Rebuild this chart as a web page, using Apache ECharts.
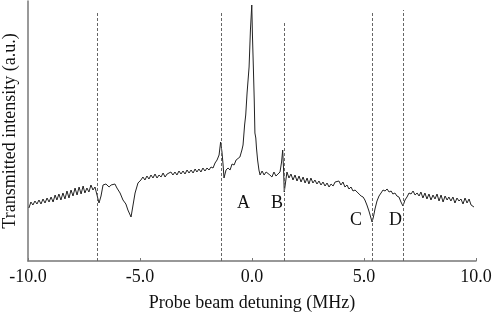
<!DOCTYPE html>
<html>
<head>
    <meta charset="utf-8">
    <title>Transmitted intensity vs probe detuning</title>
    <script src="https://cdn.jsdelivr.net/npm/echarts@6/dist/echarts.min.js"></script>
</head>
<body style="margin:0;background:#fff;">
    <div id="main" style="width:493px;height:316px;"></div>
    <script>
        // detuning (MHz) and transmitted intensity (a.u.)
        var detuning = [
            -9.96, -9.87, -9.78, -9.69, -9.60, -9.51, -9.42, -9.33, -9.24, -9.15,
            -9.06, -8.97, -8.88, -8.79, -8.71, -8.62, -8.53, -8.44, -8.35, -8.26,
            -8.17, -8.08, -7.99, -7.90, -7.81, -7.72, -7.63, -7.54, -7.46, -7.37,
            -7.28, -7.19, -7.10, -7.01, -6.92, -6.83, -6.74, -6.65, -6.52, -6.38,
            -6.29, -6.21, -6.12, -6.03, -5.89, -5.76, -5.63, -5.54, -5.40, -5.31,
            -5.22, -5.09, -4.96, -4.87, -4.78, -4.69, -4.60, -4.51, -4.42, -4.33,
            -4.24, -4.15, -4.06, -3.97, -3.88, -3.79, -3.71, -3.62, -3.53, -3.44,
            -3.35, -3.26, -3.17, -3.08, -2.99, -2.90, -2.81, -2.72, -2.63, -2.54,
            -2.46, -2.37, -2.28, -2.19, -2.10, -2.01, -1.92, -1.83, -1.74, -1.65,
            -1.56, -1.47, -1.40, -1.34, -1.29, -1.25, -1.16, -1.07, -0.98, -0.89,
            -0.80, -0.71, -0.63, -0.54, -0.45, -0.40, -0.33, -0.28, -0.22, -0.13,
            -0.07, -0.01, 0.02, 0.06, 0.10, 0.13, 0.17, 0.20, 0.25, 0.31,
            0.36, 0.45, 0.54, 0.63, 0.71, 0.80, 0.89, 0.98, 1.07, 1.16,
            1.25, 1.32, 1.37, 1.41, 1.44, 1.50, 1.56, 1.65, 1.74, 1.83,
            1.92, 2.01, 2.10, 2.19, 2.28, 2.37, 2.46, 2.54, 2.63, 2.72,
            2.81, 2.90, 2.99, 3.08, 3.17, 3.26, 3.35, 3.44, 3.53, 3.62,
            3.71, 3.79, 3.88, 3.97, 4.06, 4.15, 4.24, 4.33, 4.42, 4.51,
            4.60, 4.69, 4.78, 4.87, 4.96, 5.04, 5.13, 5.22, 5.31, 5.36,
            5.42, 5.49, 5.58, 5.67, 5.76, 5.85, 5.94, 6.03, 6.12, 6.21,
            6.29, 6.38, 6.47, 6.56, 6.65, 6.74, 6.83, 6.92, 7.01, 7.10,
            7.19, 7.28, 7.37, 7.46, 7.54, 7.63, 7.72, 7.81, 7.90, 7.99,
            8.08, 8.17, 8.26, 8.35, 8.44, 8.53, 8.62, 8.71, 8.79, 8.88,
            8.97, 9.06, 9.15, 9.24, 9.33, 9.42, 9.51, 9.60, 9.69, 9.78,
            9.91
        ];
        var intensity = [
            0.53, 0.59, 0.56, 0.60, 0.57, 0.61, 0.57, 0.62, 0.58, 0.63,
            0.59, 0.64, 0.59, 0.66, 0.61, 0.67, 0.61, 0.68, 0.62, 0.70,
            0.63, 0.71, 0.65, 0.73, 0.66, 0.74, 0.67, 0.75, 0.68, 0.73,
            0.69, 0.76, 0.71, 0.74, 0.66, 0.58, 0.65, 0.76, 0.77, 0.74,
            0.76, 0.75, 0.77, 0.73, 0.68, 0.61, 0.57, 0.51, 0.44, 0.56,
            0.68, 0.78, 0.81, 0.84, 0.81, 0.85, 0.82, 0.86, 0.83, 0.87,
            0.83, 0.86, 0.84, 0.88, 0.84, 0.87, 0.85, 0.89, 0.86, 0.89,
            0.86, 0.90, 0.87, 0.90, 0.87, 0.91, 0.88, 0.91, 0.88, 0.92,
            0.89, 0.92, 0.89, 0.93, 0.90, 0.93, 0.91, 0.94, 0.93, 0.98,
            1.01, 1.06, 1.19, 1.09, 0.96, 0.83, 0.91, 0.93, 0.91, 0.97,
            0.96, 1.01, 1.00, 1.04, 1.11, 1.16, 1.36, 1.46, 1.68, 1.94,
            2.31, 2.56, 2.26, 1.94, 1.61, 1.28, 1.23, 1.13, 1.01, 0.91,
            0.86, 0.90, 0.86, 0.89, 0.91, 0.86, 0.84, 0.89, 0.85, 0.87,
            0.89, 0.99, 1.11, 0.91, 0.69, 0.79, 0.89, 0.83, 0.87, 0.81,
            0.86, 0.80, 0.85, 0.79, 0.84, 0.78, 0.83, 0.77, 0.83, 0.78,
            0.81, 0.77, 0.80, 0.76, 0.79, 0.75, 0.78, 0.74, 0.77, 0.75,
            0.79, 0.77, 0.80, 0.76, 0.79, 0.74, 0.76, 0.72, 0.74, 0.70,
            0.71, 0.69, 0.67, 0.65, 0.64, 0.61, 0.56, 0.50, 0.43, 0.39,
            0.44, 0.52, 0.60, 0.65, 0.68, 0.71, 0.70, 0.72, 0.69, 0.70,
            0.67, 0.68, 0.65, 0.64, 0.59, 0.55, 0.61, 0.64, 0.68, 0.67,
            0.70, 0.66, 0.68, 0.65, 0.69, 0.63, 0.68, 0.62, 0.67, 0.61,
            0.66, 0.62, 0.67, 0.60, 0.66, 0.59, 0.65, 0.61, 0.64, 0.60,
            0.64, 0.58, 0.63, 0.60, 0.62, 0.57, 0.63, 0.58, 0.62, 0.56,
            0.54
        ];
        // dashed markers: detuning and the height they reach
        var markerX = [-6.9, -1.38, 0.0, 1.43, 5.36, 6.74];
        var markerTop = [2.49, 2.49, 2.61, 2.39, 2.48, 2.51];
        var xTicks = [-10, -5, 0, 5, 10];
        var peakLabels = ['A', 'B', 'C', 'D'];

        var chart = echarts.init(document.getElementById('main'), null, { renderer: 'canvas' });

        var serif = '"Liberation Serif", "DejaVu Serif", serif';
        var points = detuning.map(function (x, i) { return [x, intensity[i]]; });
        var lines = markerX.map(function (x, i) {
            return [{ coord: [x, 0] }, { coord: [x, markerTop[i]] }];
        });

        var option = {
            animation: false,
            backgroundColor: '#fff',
            grid: { left: 28, right: 17, top: 1, bottom: 55, outerBoundsMode: 'none' },
            xAxis: {
                type: 'value',
                min: xTicks[0],
                max: xTicks[xTicks.length - 1],
                interval: 5,
                name: 'Probe beam detuning (MHz)',
                nameLocation: 'middle',
                nameGap: 33,
                nameTextStyle: { fontFamily: serif, fontSize: 18, color: '#111' },
                axisLine: { onZero: false, lineStyle: { color: '#777', width: 1.5 } },
                axisTick: { show: true, inside: true, length: 3, lineStyle: { color: '#777' } },
                axisLabel: {
                    fontFamily: serif, fontSize: 18, color: '#111', margin: 7,
                    formatter: function (v) { return v.toFixed(1); }
                },
                splitLine: { show: false }
            },
            yAxis: {
                type: 'value',
                min: 0,
                max: 2.6,
                name: 'Transmitted intensity (a.u.)',
                nameLocation: 'middle',
                nameGap: 9,
                nameTextStyle: { fontFamily: serif, fontSize: 18, color: '#111' },
                axisLine: { show: true, onZero: false, lineStyle: { color: '#777', width: 1.5 } },
                axisTick: { show: false },
                axisLabel: { show: false },
                splitLine: { show: false }
            },
            series: [{
                type: 'line',
                data: points,
                showSymbol: false,
                lineStyle: { color: '#222', width: 1 },
                markLine: {
                    silent: true,
                    symbol: 'none',
                    label: { show: false },
                    lineStyle: { color: '#666', width: 1, type: [3, 2] },
                    data: lines
                }
            }],
            graphic: [
                { type: 'text', left: 237, top: 194, style: { text: peakLabels[0], font: '18px ' + serif, fill: '#111' } },
                { type: 'text', left: 271, top: 194, style: { text: peakLabels[1], font: '18px ' + serif, fill: '#111' } },
                { type: 'text', left: 350, top: 211, style: { text: peakLabels[2], font: '18px ' + serif, fill: '#111' } },
                { type: 'text', left: 389, top: 211, style: { text: peakLabels[3], font: '18px ' + serif, fill: '#111' } }
            ]
        };

        chart.setOption(option);
    </script>
</body>
</html>
